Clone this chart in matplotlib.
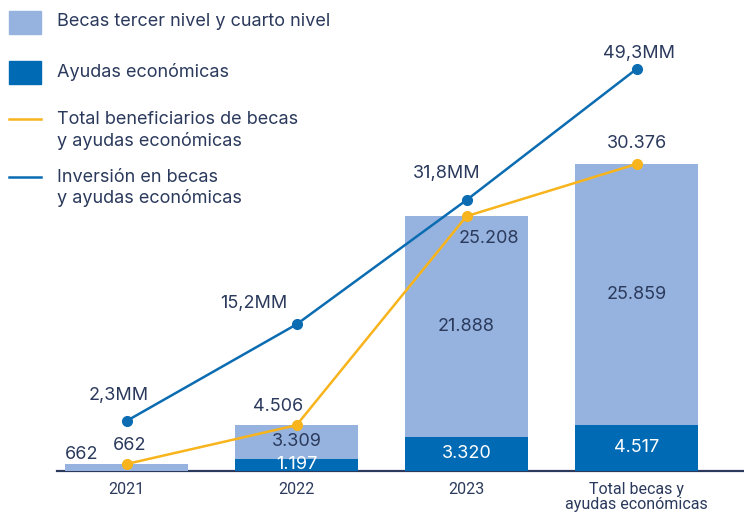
import matplotlib
matplotlib.use("Agg")
import matplotlib.pyplot as plt
from matplotlib.patches import Rectangle
from matplotlib.lines import Line2D

categories = ["2021", "2022", "2023", "Total becas y\nayudas económicas"]
becas = [662, 3309, 21888, 25859]
ayudas = [0, 1197, 3320, 4517]
total_benef = [662, 4506, 25208, 30376]
inversion = [2.3, 15.2, 31.8, 49.3]
inversion_labels = ["2,3MM", "15,2MM", "31,8MM", "49,3MM"]

legend_labels = ["Becas tercer nivel y cuarto nivel", "Ayudas económicas",
                 "Total beneficiarios de becas\ny ayudas económicas",
                 "Inversión en becas\ny ayudas económicas"]

C_LIGHT = "#95b3de"
C_DARK = "#006bb4"
C_ORANGE = "#f7b41c"
C_BLUE = "#0b6cb2"
C_TEXT = "#2b3a5c"

def fmt(v):
    return f"{v:,}".replace(",", ".")

plt.rcParams['font.family'] = ['Inter', 'DejaVu Sans']

W, H = 744, 515
fig = plt.figure(figsize=(W / 100, H / 100), dpi=100)
base_px = 470.7
ax = fig.add_axes([57 / W, (H - base_px) / H, 1 - 57 / W, base_px / H])

x = list(range(len(categories)))
bw = 0.7235
ax.bar(x, ayudas, width=bw, color=C_DARK, zorder=2)
ax.bar(x, becas, width=bw, bottom=ayudas, color=C_LIGHT, zorder=2)
ax.set_xlim(-0.409, 3.632)
ax.set_ylim(0, 46620)

for s in ["top", "right", "left"]:
    ax.spines[s].set_visible(False)
ax.spines["bottom"].set_color(C_TEXT)
ax.spines["bottom"].set_linewidth(1.6)
ax.spines["bottom"].set_zorder(1)
ax.set_yticks([])
ax.set_xticks(x)
ax.set_xticklabels(categories, fontsize=11.5, color=C_TEXT, family=['Roboto', 'DejaVu Sans'],
                   linespacing=1.05)
ax.tick_params(axis="x", length=0, pad=8)

LBL = 13

# bar labels
for i in range(len(x)):
    if ayudas[i] > 0:
        ax.text(x[i], ayudas[i] / 2, fmt(ayudas[i]), ha="center", va="center",
                color="white", fontsize=LBL, zorder=5)
    if becas[i] > 2000:
        ax.text(x[i], ayudas[i] + becas[i] / 2, fmt(becas[i]), ha="center", va="center",
                color=C_TEXT, fontsize=LBL, zorder=5)
    else:
        ax.annotate(fmt(becas[i]), (x[i], ayudas[i] + becas[i]), xytext=(-32.5, 6.5),
                    textcoords="offset points", ha="center", va="center",
                    color=C_TEXT, fontsize=LBL, zorder=5)

# total line
ax.plot(x, total_benef, color=C_ORANGE, lw=1.8, marker="o", ms=7, zorder=4)
off_total = [(2, 13), (-13, 13.5), (16, -16), (0, 15)]
for i in range(len(x)):
    ax.annotate(fmt(total_benef[i]), (x[i], total_benef[i]), xytext=off_total[i],
                textcoords="offset points", ha="center", va="center",
                color=C_TEXT, fontsize=LBL, zorder=5)

# investment line
ax2 = ax.twinx()
ax2.set_position(ax.get_position())
ax2.plot(x, inversion, color=C_BLUE, lw=1.8, marker="o", ms=7, zorder=4)
ax2.set_ylim(-4.34, 58.51)
ax2.axis("off")
off_inv = [(-6, 18), (-31, 15), (-14, 19), (1.5, 11)]
for i in range(len(x)):
    ax2.annotate(inversion_labels[i], (x[i], inversion[i]), xytext=off_inv[i],
                 textcoords="offset points", ha="center", va="center",
                 color=C_TEXT, fontsize=LBL, zorder=5)

# legend (manual, in figure pixels)
def fx(px):
    return px / W

def fy(py):
    return 1 - py / H

fig.add_artist(Rectangle((fx(9), fy(34)), 32 / W, 23 / H, transform=fig.transFigure,
                         color=C_LIGHT))
fig.add_artist(Rectangle((fx(9), fy(84)), 32 / W, 23 / H, transform=fig.transFigure,
                         color=C_DARK))
fig.add_artist(Line2D([fx(9), fx(41)], [fy(119), fy(119)], transform=fig.transFigure,
                      color=C_ORANGE, lw=1.8))
fig.add_artist(Line2D([fx(9), fx(41)], [fy(177), fy(177)], transform=fig.transFigure,
                      color=C_BLUE, lw=1.8))
line_ys = [[22], [72], [119, 141], [177, 198]]
for lab, yys in zip(legend_labels, line_ys):
    for line, yy in zip(lab.split("\n"), yys):
        fig.text(fx(57), fy(yy), line, ha="left", va="center", fontsize=13, color=C_TEXT,
                 transform=fig.transFigure)

fig.savefig("out.png", dpi=100)
